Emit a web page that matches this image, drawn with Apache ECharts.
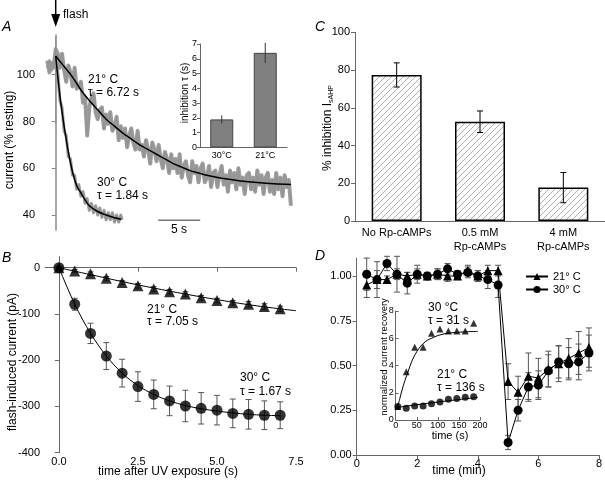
<!DOCTYPE html>
<html><head><meta charset="utf-8">
<script src="https://cdn.jsdelivr.net/npm/echarts@6/dist/echarts.min.js"></script>
<style>html,body{margin:0;padding:0;background:#fff}#c{width:605px;height:482px}</style>
</head><body><div id="c"></div><script>
// ---------- Panel A : raw traces (% resting), sampled every 0.25 s from t = -1 s (flash at t = 0)
const traceStart = -1, traceStep = 0.25, traceEnd30 = 7.9;
const trace21 = [106,101,105,103,111,109,103,109,102,97,104,101,95,103,94,95,97,88,90,74,86,90,92,84,81,85,86,77,83,79,84,76,78,82,72,78,73,77,69,74,77,71,68,76,68,70,65,72,68,62,71,68,63,70,64,60,67,64,58,66,60,64,58,66,56,61,63,57,54,63,58,61,54,60,62,54,56,61,52,58,59,52,57,61,53,57,50,59,54,58,51,60,53,56,49,57,58,51,56,50,59,53,57,49,56,58,50,55,49,58,51,56,48,57,52,55,44];
const trace30 = [103,106,102,105,108,101,89,86,76,74,65,64,57,57,51,53,48,50,45,47,42,45,41,44,40,43,39,42,38,41,38,41,37,40,37,40,38];
const fitA21T = [0,1,2,3,4,5,6,7,8,9,10,11,12,13,14,15,16,17,18,19,20,22,24,26,28];
const fitA21V = [108,103.5,99,93.5,89,85,81,78,75,72.5,70,68,66,64,62,60.5,59,58,57,56.3,55.6,54.6,53.9,53.4,53.1];
const fitA30T = [0,0.5,1,1.5,2,2.5,3,3.5,4,5,6,7,7.8];
const fitA30V = [108,91,78,67,58.5,52.5,49.5,46.5,44,41.5,40,38.8,38.2];
const flashSpike = [116,79];
const scaleBarT = [12.2,17.2], scaleBarV = 37.8;
// Panel A inset
const insACats = ['30°C','21°C'];
const insAVals = [1.9,6.4];
const insAErr = [0.27,0.68];
// ---------- Panel C
const cCats = ['No Rp-cAMPs','0.5 mM\nRp-cAMPs','4 mM\nRp-cAMPs'];
const cVals = [77.4,52.6,17.7];
const cErr = [6.4,5.7,8.0];
// ---------- Panel B
const bTime = [0,0.5,1,1.5,2,2.5,3,3.5,4,4.5,5,5.5,6,6.5,7];
const b21 = [0,-7,-13,-23,-32,-39,-46,-52,-57,-65,-71,-76,-79,-84,-89];
const b21Err = [2,3,4,4,4,5,5,5,5,5,5,5,6,6,6];
const b30 = [0,-79,-142,-191,-228,-257,-274,-288,-299,-304,-308,-315,-317,-319,-319];
const b30Err = [3,13,22,29,30,32,31,32,34,34,32,31,32,31,29];
const bFit21T = [0,1,2,3,4,5,6,7,7.5];
const bFit21V = [0,-15,-30,-44,-57,-69,-80,-89,-93];
const bFit30V = [0,-79,-142,-191,-228,-255,-274,-288,-298,-305,-310,-314,-317,-319,-320];
// ---------- Panel D
const dTime = [0.33,0.67,1,1.33,1.67,2,2.33,2.67,3,3.33,3.67,4,4.33,4.67,5,5.33,5.67,6,6.33,6.67,7,7.33,7.67];
const d21 = [0.95,0.98,0.98,1.01,1.00,1.01,1.00,1.01,1.00,1.00,1.03,1.00,1.03,1.03,0.41,0.35,0.44,0.43,0.48,0.51,0.54,0.57,0.60];
const d21Err = [0.07,0.05,0.02,0.03,0.02,0.03,0.02,0.03,0.03,0.02,0.03,0.03,0.03,0.03,0.10,0.09,0.13,0.11,0.10,0.10,0.11,0.12,0.11];
const d30 = [1.01,0.98,1.07,1.01,0.96,1.01,1.00,1.01,1.04,1.01,1.02,1.00,0.98,0.95,0.07,0.25,0.38,0.39,0.47,0.52,0.51,0.52,0.57];
const d30Err = [0.09,0.10,0.04,0.10,0.06,0.05,0.02,0.03,0.03,0.02,0.03,0.03,0.05,0.07,0.04,0.06,0.08,0.08,0.09,0.09,0.09,0.10,0.10];
// Panel D inset
const insDTime = [5,25,45,65,85,105,125,145,165,185];
const insD30 = [1.0,3.55,5.34,5.34,6.37,6.67,6.54,6.54,6.54,7.1];
const insD21 = [1.0,0.86,1.03,1.03,1.2,1.32,1.52,1.57,1.67,1.71];
const insD30FitT = [5,10,15,22,30,38,46,55,65,75,85,100,120,140,170,195];
const insD30FitV = [1.0,1.6,2.2,2.9,3.6,4.3,4.8,5.25,5.6,5.85,6.0,6.2,6.35,6.42,6.48,6.5];
const insD21FitT = [3,50,100,150,195];
const insD21FitV = [0.92,1.12,1.32,1.5,1.66];

const FF = 'Liberation Sans, Arial, sans-serif';
const zip = (xs, ys) => xs.map((x, i) => [x, ys[i]]);
const zip3 = (xs, ys, es) => xs.map((x, i) => [x, ys[i], es[i]]);

function errRender(cap, color) {
  return function (params, api) {
    const x = api.value(0), y = api.value(1), e = api.value(2);
    const hi = api.coord([x, y + e]), lo = api.coord([x, y - e]);
    const st = { stroke: color, lineWidth: 1 };
    const ch = [{ type: 'line', shape: { x1: hi[0], y1: hi[1], x2: lo[0], y2: lo[1] }, style: st }];
    if (cap) {
      ch.push({ type: 'line', shape: { x1: hi[0] - cap, y1: hi[1], x2: hi[0] + cap, y2: hi[1] }, style: st });
      ch.push({ type: 'line', shape: { x1: lo[0] - cap, y1: lo[1], x2: lo[0] + cap, y2: lo[1] }, style: st });
    }
    return { type: 'group', children: ch };
  };
}

// hatch pattern for panel C
const pc = document.createElement('canvas');
pc.width = 6; pc.height = 6;
const px = pc.getContext('2d');
px.fillStyle = '#fff'; px.fillRect(0, 0, 6, 6);
px.strokeStyle = '#9a9a9a'; px.lineWidth = 0.8;
px.beginPath();
px.moveTo(0, 6); px.lineTo(6, 0);
px.moveTo(-1, 1); px.lineTo(1, -1);
px.moveTo(5, 7); px.lineTo(7, 5);
px.stroke();

const axLine = { lineStyle: { color: '#666', width: 1 } };
const lbl = (o) => Object.assign({ color: '#000', fontSize: 11, fontFamily: FF }, o || {});

const chart = echarts.init(document.getElementById('c'), null, { renderer: 'canvas' });

const grids = [
  { left: 40, top: 35, width: 252.6, height: 195 },        // 0 A
  { left: 200, top: 44, width: 87, height: 103.5 },         // 1 A inset
  { left: 355, top: 32.3, width: 250, height: 188.7 },      // 2 C
  { left: 45, top: 256.7, width: 251, height: 196 },        // 3 B
  { left: 356.7, top: 258.1, width: 245, height: 196.9 },   // 4 D
  { left: 395.7, top: 311, width: 84.3, height: 109 }       // 5 D inset
];

const xAxes = [
  { gridIndex: 0, type: 'value', min: -1.87, max: 28.2, show: false },
  { gridIndex: 1, type: 'category', data: insACats, axisLine: axLine, axisTick: { show: false },
    axisLabel: lbl({ fontSize: 9, margin: 4 }) },
  { gridIndex: 2, type: 'category', data: cCats, axisLine: axLine, axisTick: { show: false },
    axisLabel: lbl({ fontSize: 11, margin: 5, lineHeight: 14, interval: 0 }) },
  { gridIndex: 3, type: 'value', min: -0.44, max: 7.5, axisLine: axLine,
    axisTick: { length: 4, lineStyle: { color: '#666' }, customValues: [0, 2.5, 5, 7.5] },
    axisLabel: lbl({ fontSize: 11, margin: 4, customValues: [0, 2.5, 5, 7.5], formatter: v => v.toFixed(1) }),
    splitLine: { show: false } },
  { gridIndex: 4, type: 'value', min: 0, max: 8, interval: 2, axisLine: axLine,
    axisTick: { length: 4, lineStyle: { color: '#666' } },
    axisLabel: lbl({ fontSize: 11, margin: 3 }), splitLine: { show: false } },
  { gridIndex: 5, type: 'value', min: 0, max: 200, interval: 50, axisLine: axLine,
    axisTick: { length: 3, inside: true, lineStyle: { color: '#666' } },
    axisLabel: lbl({ fontSize: 9, margin: 1 }), splitLine: { show: false } }
];

const yAxes = [
  { gridIndex: 0, type: 'value', min: 33.6, max: 117, axisLine: { show: true, lineStyle: { color: '#888', width: 1.5 } },
    axisTick: { show: true, length: 4, lineStyle: { color: '#888' }, customValues: [40, 60, 80, 100] },
    axisLabel: lbl({ fontSize: 11, margin: 5, customValues: [40, 60, 80, 100] }), splitLine: { show: false } },
  { gridIndex: 1, type: 'value', min: 0, max: 7, interval: 1, axisLine: { show: true, lineStyle: { color: '#666' } },
    axisTick: { show: true, length: 3, lineStyle: { color: '#666' } },
    axisLabel: lbl({ fontSize: 9, margin: 3 }), splitLine: { show: false } },
  { gridIndex: 2, type: 'value', min: 0, max: 100, interval: 20, axisLine: { show: true, lineStyle: { color: '#666' } },
    axisTick: { show: true, length: 4, lineStyle: { color: '#666' } },
    axisLabel: lbl({ fontSize: 11, margin: 5 }), splitLine: { show: false } },
  { gridIndex: 3, type: 'value', min: -400, max: 23.8, axisLine: { show: true, lineStyle: { color: '#666' } },
    axisTick: { show: true, length: 4, lineStyle: { color: '#666' }, customValues: [-400, -300, -200, -100, 0] },
    axisLabel: lbl({ fontSize: 11, margin: 5, customValues: [-400, -300, -200, -100, 0] }), splitLine: { show: false } },
  { gridIndex: 4, type: 'value', min: 0, max: 1.1, axisLine: { show: true, lineStyle: { color: '#666' } },
    axisTick: { show: true, length: 4, lineStyle: { color: '#666' }, customValues: [0, 0.25, 0.5, 0.75, 1] },
    axisLabel: lbl({ fontSize: 11, margin: 5, customValues: [0, 0.25, 0.5, 0.75, 1], formatter: v => v.toFixed(2) }),
    splitLine: { show: false } },
  { gridIndex: 5, type: 'value', min: 0, max: 8, interval: 2, axisLine: { show: true, lineStyle: { color: '#666' } },
    axisTick: { show: true, length: 3, inside: true, lineStyle: { color: '#666' } },
    axisLabel: lbl({ fontSize: 9, margin: 2 }), splitLine: { show: false } }
];

const line = (name, xi, data, o) => Object.assign({
  name, type: 'line', xAxisIndex: xi, yAxisIndex: xi, data, symbol: 'none',
  lineStyle: { color: '#000', width: 1 }, itemStyle: { color: '#000' }, silent: true
}, o || {});

const tr21 = trace21.map((v, i) => [traceStart + i * traceStep, v]);
const tr30 = trace30.map((v, i) => [Math.min(traceStart + i * traceStep, traceEnd30), v]);

const series = [
  // Panel A : noisy raw traces (band underlay + thin stroke, same gray)
  line('a21band', 0, tr21, { lineStyle: { color: '#9c9c9c', width: 4, join: 'round' } }),
  line('a30band', 0, tr30, { lineStyle: { color: '#9c9c9c', width: 3, join: 'round' } }),
  line('a21raw', 0, tr21, { lineStyle: { color: '#939393', width: 1 } }),
  line('a30raw', 0, tr30, { lineStyle: { color: '#939393', width: 1 } }),
  line('aspike', 0, [[0, flashSpike[0]], [0, flashSpike[1]]], { lineStyle: { color: '#8f8f8f', width: 1 } }),
  line('a21fit', 0, zip(fitA21T, fitA21V), { smooth: 0.3, lineStyle: { color: '#000', width: 1.5 } }),
  line('a30fit', 0, zip(fitA30T, fitA30V), { smooth: 0.3, lineStyle: { color: '#000', width: 1.5 } }),
  line('ascale', 0, [[scaleBarT[0], scaleBarV], [scaleBarT[1], scaleBarV]], { lineStyle: { color: '#777', width: 1.5 } }),
  // Panel A inset
  { type: 'bar', xAxisIndex: 1, yAxisIndex: 1, data: insAVals, barWidth: 23, silent: true,
    itemStyle: { color: '#808080', borderColor: '#444', borderWidth: 1 } },
  { type: 'custom', xAxisIndex: 1, yAxisIndex: 1, data: insAVals.map((v, i) => [i, v, insAErr[i]]),
    renderItem: errRender(0, '#333'), silent: true, z: 5 },
  // Panel C
  { type: 'bar', xAxisIndex: 2, yAxisIndex: 2, data: cVals, barWidth: 50, silent: true,
    itemStyle: { color: { image: pc, repeat: 'repeat' }, borderColor: '#000', borderWidth: 1.5 } },
  { type: 'custom', xAxisIndex: 2, yAxisIndex: 2, data: cVals.map((v, i) => [i, v, cErr[i]]),
    renderItem: errRender(3, '#000'), silent: true, z: 5 },
  // Panel B
  line('b21fit', 3, zip(bFit21T, bFit21V), { smooth: 0.3 }),
  line('b30fit', 3, zip(bTime, bFit30V), { smooth: 0.3 }),
  { type: 'custom', xAxisIndex: 3, yAxisIndex: 3, data: zip3(bTime, b30, b30Err), renderItem: errRender(3, '#555'), silent: true },
  { type: 'custom', xAxisIndex: 3, yAxisIndex: 3, data: zip3(bTime, b21, b21Err), renderItem: errRender(3, '#555'), silent: true },
  { name: 'b21', type: 'scatter', xAxisIndex: 3, yAxisIndex: 3, data: zip(bTime, b21), symbol: 'triangle', symbolSize: 11,
    itemStyle: { color: '#000' }, silent: true, z: 4 },
  { name: 'b30', type: 'scatter', xAxisIndex: 3, yAxisIndex: 3, data: zip(bTime, b30), symbol: 'circle', symbolSize: 11,
    itemStyle: { color: '#000' }, silent: true, z: 4 },
  // Panel D
  { type: 'custom', xAxisIndex: 4, yAxisIndex: 4, data: zip3(dTime, d21, d21Err), renderItem: errRender(3, '#555'), silent: true },
  { type: 'custom', xAxisIndex: 4, yAxisIndex: 4, data: zip3(dTime, d30, d30Err), renderItem: errRender(3, '#555'), silent: true },
  line('21° C', 4, zip(dTime, d21), { symbol: 'triangle', symbolSize: 9, showSymbol: true, z: 4 }),
  line('30° C', 4, zip(dTime, d30), { symbol: 'circle', symbolSize: 9, showSymbol: true, z: 4 }),
  // Panel D inset
  line('i30fit', 5, zip(insD30FitT, insD30FitV), { smooth: 0.3 }),
  line('i21fit', 5, zip(insD21FitT, insD21FitV), { smooth: 0.3 }),
  { name: 'i30', type: 'scatter', xAxisIndex: 5, yAxisIndex: 5, data: zip(insDTime, insD30), symbol: 'triangle', symbolSize: 7,
    itemStyle: { color: '#000' }, silent: true },
  { name: 'i21', type: 'scatter', xAxisIndex: 5, yAxisIndex: 5, data: zip(insDTime, insD21), symbol: 'circle', symbolSize: 7,
    itemStyle: { color: '#000' }, silent: true }
];

function txt(t, x, y, o) {
  o = o || {};
  return {
    type: 'text', x, y, rotation: o.rot || 0, silent: true, z: 100,
    style: Object.assign({
      text: t, fill: '#000', font: (o.italic ? 'italic ' : '') + (o.size || 12) + 'px ' + FF,
      textAlign: o.align || 'left', textVerticalAlign: 'middle'
    }, o.style || {})
  };
}

const graphics = [
  // arrow
  { type: 'line', shape: { x1: 55.7, y1: 0, x2: 55.7, y2: 16 }, style: { stroke: '#000', lineWidth: 1.5 }, silent: true },
  { type: 'polygon', shape: { points: [[51.2, 14], [60.2, 14], [55.7, 27]] }, style: { fill: '#000' }, silent: true },
  txt('flash', 63, 15),
  txt('A', 2, 27, { italic: true, size: 14 }),
  txt('21° C', 88, 80),
  txt('τ = 6.72 s', 88, 92.5),
  txt('30° C', 97, 183),
  txt('τ = 1.84 s', 97, 195.5),
  txt('5 s', 179, 230, { align: 'center' }),
  txt('current (% resting)', 10, 140, { rot: Math.PI / 2, align: 'center' }),
  txt('inhibition τ (s)', 185, 93, { rot: Math.PI / 2, align: 'center', size: 10 }),
  txt('C', 315, 27, { italic: true, size: 14 }),
  { type: 'text', x: 328, y: 128, rotation: Math.PI / 2, silent: true, z: 100,
    style: { text: '{n|% inhibition I}{s|sAHP}', textAlign: 'center', textVerticalAlign: 'middle',
      rich: { n: { fontSize: 12, fontFamily: FF, fill: '#000' }, s: { fontSize: 7, fontFamily: FF, fill: '#000', padding: [7, 0, 0, 0] } } } },
  txt('B', 2, 258, { italic: true, size: 14 }),
  txt('21° C', 147, 310),
  txt('τ = 7.05 s', 147, 322),
  txt('30° C', 240, 378),
  txt('τ = 1.67 s', 240, 392),
  txt('flash-induced current (pA)', 13, 362, { rot: Math.PI / 2, align: 'center' }),
  txt('time after UV exposure (s)', 168, 472, { align: 'center' }),
  txt('D', 315, 256, { italic: true, size: 14 }),
  txt('30 °C', 428, 308),
  txt('τ = 31 s', 428, 321),
  txt('21° C', 437, 375),
  txt('τ = 136 s', 437, 387.5),
  txt('normalized current recovery', 384.5, 357, { rot: Math.PI / 2, align: 'center', size: 9.5 }),
  txt('time (s)', 450, 436, { align: 'center', size: 11 }),
  txt('time (min)', 459, 471, { align: 'center' })
];

chart.setOption({
  animation: false,
  backgroundColor: '#fff',
  textStyle: { fontFamily: FF },
  grid: grids,
  xAxis: xAxes,
  yAxis: yAxes,
  legend: {
    data: ['21° C', '30° C'], orient: 'vertical', left: 520, top: 266, itemWidth: 22, itemHeight: 9, itemGap: 2,
    textStyle: { fontSize: 11, fontFamily: FF, color: '#000' }, selectedMode: false
  },
  series,
  graphic: graphics
});
</script></body></html>
